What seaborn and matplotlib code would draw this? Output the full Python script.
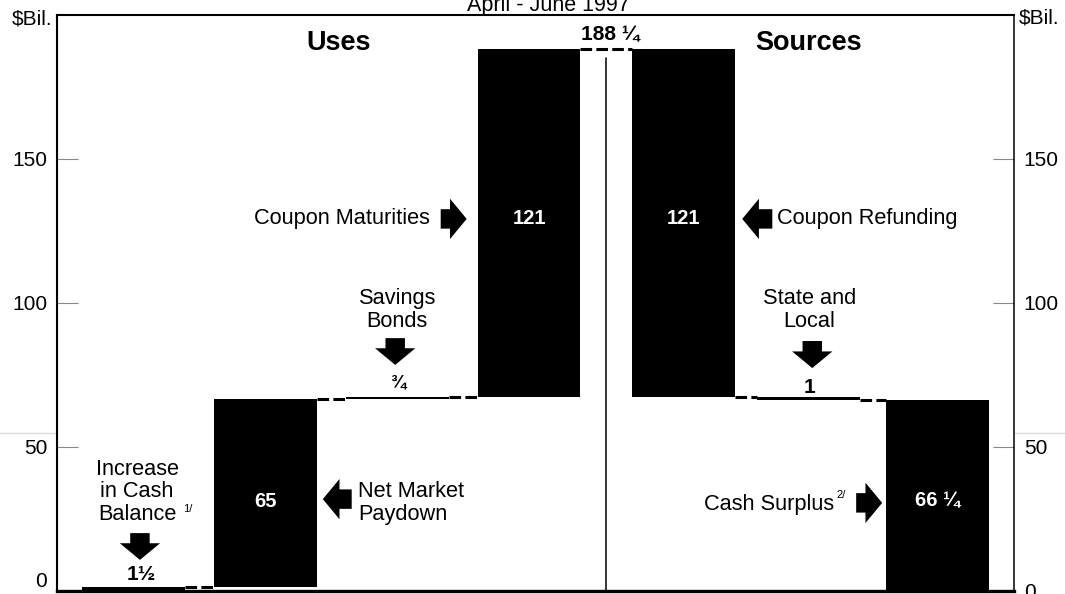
import matplotlib
matplotlib.use("Agg")
import matplotlib.pyplot as plt
from matplotlib.lines import Line2D
import numpy as np
import pandas as pd
import seaborn as sns

# Treasury uses and sources of cash, April - June 1997 ($ billions)
categories = ["Increase in Cash Balance", "Net Market Paydown", "Savings Bonds",
              "Coupon Maturities", "Coupon Refunding", "State and Local", "Cash Surplus"]
sides = ["Uses", "Uses", "Uses", "Uses", "Sources", "Sources", "Sources"]
amounts = [1.5, 65, 0.75, 121, 121, 1, 66.25]
value_labels = ["1½", "65", "¾", "121", "121", "1", "66 ¼"]
total_label = "188 ¼"
y_ticks = [0, 50, 100, 150]

# bar slots along the x axis (layout only, divider sits between uses and sources)
slots = [0, 1, 2, 3, 4.17, 5.12, 6.1]
divider_x = 3.587

FONT = ["Liberation Sans", "DejaVu Sans"]


def main() -> int:
    sns.set_style("white")
    plt.rcParams["font.family"] = FONT
    plt.rcParams["text.color"] = "black"
    plt.rcParams["ytick.labelcolor"] = "black"

    amt = np.array(amounts, dtype=float)
    is_use = np.array([s == "Uses" for s in sides])
    uses = amt[is_use]
    srcs = amt[~is_use]
    uses_bottom = np.concatenate([[0.0], np.cumsum(uses)[:-1]])
    srcs_bottom = np.concatenate([np.cumsum(srcs[::-1])[:-1][::-1], [0.0]])
    bottoms = np.concatenate([uses_bottom, srcs_bottom])
    tops = bottoms + amt

    df = pd.DataFrame({"slot": slots, "amount": amt, "bottom": bottoms,
                       "category": categories})

    fig = plt.figure(figsize=(10.65, 5.94), dpi=100)
    ax = fig.add_axes([57 / 1065, 3 / 594, (1014 - 57) / 1065, (591 - 15) / 594])

    width_rel = 0.82
    sns.barplot(data=df, x="slot", y="amount", native_scale=True,
                bottom=df["bottom"].to_numpy(), color="black", width=width_rel,
                errorbar=None, linewidth=0, ax=ax)
    bar_w = width_rel * np.min(np.diff(slots))
    half = bar_w / 2

    ax.set_xlim(-0.58, 6.678)
    ax.set_ylim(0, 200)
    ax.set_xlabel("")
    ax.set_ylabel("")
    ax.set_xticks([])

    # dashed connectors between bars
    for i in range(len(slots) - 1):
        level = tops[i] if sides[i] == "Uses" else bottoms[i]
        ax.plot([slots[i] + half, slots[i + 1] - half], [level, level],
                color="black", lw=2.2, ls=(0, (3.8, 1.4)), dash_capstyle="butt")

    # divider between uses and sources
    ax.plot([divider_x, divider_x], [0, 185], color="black", lw=1.1)

    # axes styling
    ax.set_yticks(y_ticks)
    ax.tick_params(axis="y", direction="in", length=15, width=0.8, color="#888888",
                   left=True, right=True, labelleft=True, labelright=True,
                   labelsize=15, pad=7, labelcolor="black")
    for side, lw in [("top", 1.5), ("left", 1.5), ("right", 1.1), ("bottom", 2.4)]:
        ax.spines[side].set_visible(True)
        ax.spines[side].set_linewidth(lw)
        ax.spines[side].set_color("black")
    # keep the left zero label above the bottom edge
    fig.canvas.draw()
    ax.yaxis.get_major_ticks()[0].label1.set_va("bottom")

    # headings
    ax.text(1.557, 190.3, "Uses", ha="center", va="center", fontsize=19.5, fontweight="bold")
    ax.text(5.117, 190.3, "Sources", ha="center", va="center", fontsize=19.5, fontweight="bold")
    ax.text(3.617, 193.0, total_label, ha="center", va="center", fontsize=15, fontweight="bold")

    def block_arrow(x0, y0, x1, y1):
        ax.annotate("", xy=(x1, y1), xytext=(x0, y0),
                    arrowprops=dict(arrowstyle="simple,head_length=1.2,head_width=2.9,tail_width=1.4",
                                    mutation_scale=10, fc="black", ec="black", lw=0,
                                    shrinkA=0, shrinkB=0))

    # values inside the tall bars
    for i in [1, 3, 4, 6]:
        ymid = 129.2 if i in (3, 4) else 31.2
        ax.text(slots[i], ymid, value_labels[i], ha="center", va="center",
                color="white", fontsize=14.5, fontweight="bold")

    # coupon row
    ax.text(2.246, 129.2, "Coupon Maturities", ha="right", va="center", fontsize=15.7)
    block_arrow(2.33, 129.2, 2.527, 129.2)
    block_arrow(4.845, 129.2, 4.617, 129.2)
    ax.text(4.883, 129.2, "Coupon Refunding", ha="left", va="center", fontsize=15.7)

    # savings bonds / state and local
    ax.text(2.0, 97.6, "Savings\nBonds", ha="center", va="center", fontsize=15.7, linespacing=1.12)
    block_arrow(1.985, 87.8, 1.985, 78.5)
    ax.text(2.0, 72.2, value_labels[2], ha="center", va="center", fontsize=13, fontweight="bold")

    ax.text(5.125, 97.6, "State and\nLocal", ha="center", va="center", fontsize=15.7, linespacing=1.12)
    block_arrow(5.148, 86.8, 5.148, 77.4)
    ax.text(5.125, 70.8, value_labels[5], ha="center", va="center", fontsize=15, fontweight="bold")

    # net market paydown
    block_arrow(1.655, 31.9, 1.436, 31.9)
    ax.text(1.701, 30.6, "Net Market\nPaydown", ha="left", va="center", fontsize=15.7, linespacing=1.12)

    # cash balance
    ax.text(0.027, 34.4, "Increase\nin Cash\nBalance", ha="center", va="center", fontsize=15.7,
            linespacing=1.12)
    ax.text(0.375, 28.5, "1/", ha="left", va="center", fontsize=8)
    block_arrow(0.049, 20.1, 0.049, 10.8)
    ax.text(0.06, 5.8, value_labels[0], ha="center", va="center", fontsize=15, fontweight="bold")

    # cash surplus
    ax.text(5.314, 29.9, "Cash Surplus", ha="right", va="center", fontsize=15.7)
    ax.text(5.33, 33.5, "2/", ha="left", va="center", fontsize=8)
    block_arrow(5.481, 30.6, 5.678, 30.6)

    # unit labels and title
    fig.text(52 / 1065, 1 - 19 / 594, "$Bil.", ha="right", va="center", fontsize=15)
    fig.text(1019 / 1065, 1 - 18 / 594, "$Bil.", ha="left", va="center", fontsize=15)
    fig.text(548 / 1065, 1 - 11 / 594, "April - June 1997", ha="center", va="baseline", fontsize=15.5)

    # faint scan line across the page
    fig.add_artist(Line2D([0, 1], [1 - 433 / 594] * 2, transform=fig.transFigure,
                          color="#dddddd", lw=1, zorder=0))

    fig.savefig("out.png", dpi=100)
    plt.close(fig)
    return 0


if __name__ == "__main__":
    raise SystemExit(main())
